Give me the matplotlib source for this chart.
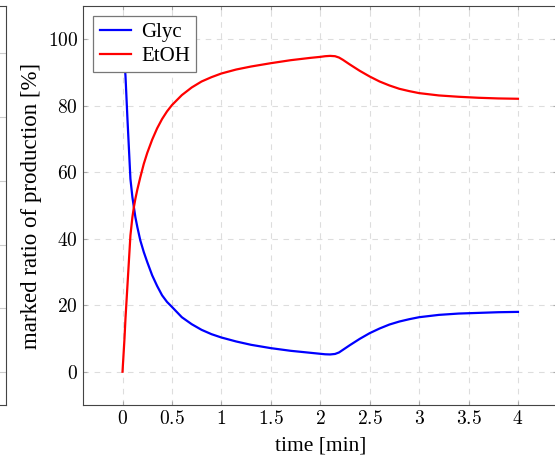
import matplotlib
matplotlib.use("Agg")
import matplotlib.pyplot as plt
from matplotlib.ticker import FuncFormatter

plt.rcParams['font.family'] = ['Liberation Serif', 'DejaVu Serif']
plt.rcParams['mathtext.fontset'] = 'cm'

# data
time = [0, 0.02, 0.03, 0.05, 0.08, 0.1, 0.115, 0.13, 0.15, 0.18, 0.215, 0.25,
        0.3, 0.35, 0.4, 0.45, 0.5, 0.6, 0.7, 0.8, 0.9, 1.0, 1.15, 1.3, 1.5,
        1.7, 1.9, 2.0, 2.05, 2.1, 2.15, 2.19, 2.23, 2.27, 2.3, 2.4, 2.5, 2.6,
        2.7, 2.8, 2.9, 3.0, 3.2, 3.4, 3.6, 3.8, 4.0]
glyc = [100, 93, 89, 76, 58, 52.5, 49.5, 46.5, 43.5, 39.5, 36, 33,
        29, 25.8, 23, 21, 19.5, 16.4, 14.3, 12.6, 11.3, 10.3, 9.1, 8.1, 7.1,
        6.3, 5.7, 5.4, 5.25, 5.2, 5.35, 5.8, 6.6, 7.4, 8.0, 9.9, 11.6, 13.0,
        14.2, 15.1, 15.8, 16.4, 17.1, 17.5, 17.7, 17.9, 18.0]
etoh = [0, 10, 16, 26, 41, 46.5, 49.5, 52, 54.8, 58.5, 62.5, 65.8,
        69.8, 73.2, 76, 78.3, 80.2, 83.2, 85.5, 87.3, 88.6, 89.7, 90.9, 91.8, 92.8,
        93.7, 94.4, 94.7, 94.9, 95.0, 94.9, 94.5, 93.8, 93.0, 92.4, 90.5, 88.8, 87.3,
        86.1, 85.1, 84.4, 83.8, 83.1, 82.7, 82.4, 82.2, 82.1]
xticks = [0, 0.5, 1, 1.5, 2, 2.5, 3, 3.5, 4]
yticks = [0, 20, 40, 60, 80, 100]

fig = plt.figure(figsize=(5.55, 4.62), dpi=100)

# neighbouring plot frame cut off at the left edge
left = fig.add_axes([-0.1, 0.1234, 0.1108, 0.8636])
left.set_ylim(405, 7)
left.set_xticks([])
left.set_yticks([])
for yy in [54, 118, 182, 245, 308, 372]:
    left.axhline(yy, color='#cccccc', lw=0.8)
for s in left.spines.values():
    s.set_color('#444444')

ax = fig.add_axes([0.1495, 0.1234, 0.855, 0.8636])
ax.plot(time, glyc, color='#0000ff', lw=1.6, label='Glyc')
ax.plot(time, etoh, color='#ff0000', lw=1.6, label='EtOH')

ax.set_xlim(-0.4, 4.4)
ax.set_ylim(-10, 110)
ax.set_xticks(xticks)
ax.set_yticks(yticks)
ax.xaxis.set_major_formatter(FuncFormatter(lambda v, p: '$%g$' % v))
ax.yaxis.set_major_formatter(FuncFormatter(lambda v, p: '$%g$' % v))
ax.tick_params(direction='in', length=3, color='#aaaaaa', labelsize=14,
               top=True, right=True)
ax.grid(True, color='#dddddd', linestyle=(0, (5, 5)), lw=0.8)
for s in ax.spines.values():
    s.set_color('#444444')

ax.set_xlabel('time [min]', fontsize=15.5, labelpad=6)
ax.set_ylabel('marked ratio of production [%]', fontsize=16.5, labelpad=4)

leg = ax.legend(loc='upper left', fontsize=15, fancybox=False, edgecolor='#777777',
                framealpha=1, borderaxespad=0.5, handlelength=1.5,
                borderpad=0.3, labelspacing=0.2, handletextpad=0.5)
leg.get_frame().set_linewidth(0.9)

fig.savefig('out.png', dpi=100)
